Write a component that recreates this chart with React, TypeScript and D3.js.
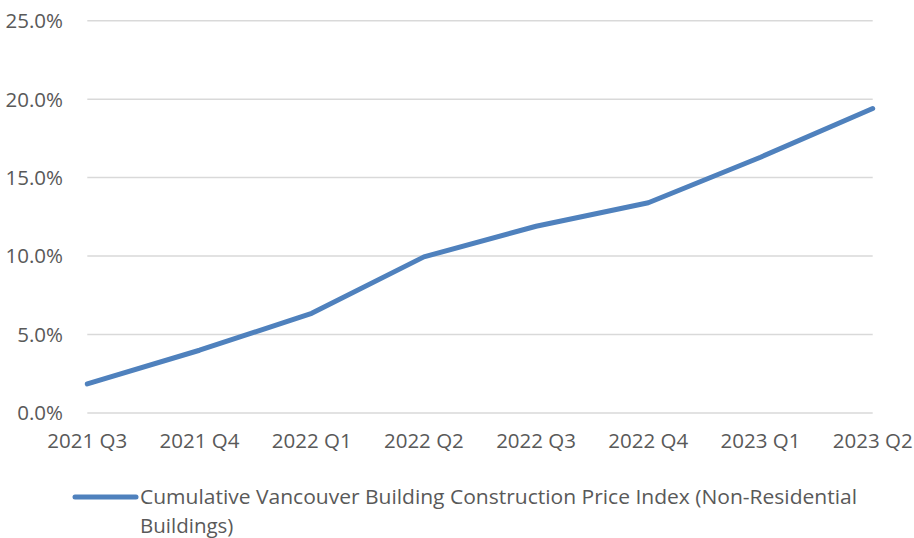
import React from "react";
import * as d3 from "d3";

const categories = ["2021 Q3", "2021 Q4", "2022 Q1", "2022 Q2", "2022 Q3", "2022 Q4", "2023 Q1", "2023 Q2"];
const values = [1.85, 4.0, 6.35, 9.95, 11.9, 13.4, 16.3, 19.4];
const yTicks = [0, 5, 10, 15, 20, 25];
const seriesName = "Cumulative Vancouver Building Construction Price Index (Non-Residential";
const seriesName2 = "Buildings)";

const W = 914;
const H = 538;
const FONT = "'Open Sans', sans-serif";

export default function App() {
  const x = d3.scalePoint<string>().domain(categories).range([87.3, 872.7]);
  const y = d3.scaleLinear().domain([0, 25]).range([413, 20.7]);
  const line = d3
    .line<number>()
    .x((_, i) => x(categories[i]) as number)
    .y((d) => y(d));

  return (
    <svg width={W} height={H} style={{ position: "absolute", left: 0, top: 0, background: "#fff" }}>
      {yTicks.map((t) => (
        <g key={t}>
          <line x1={87.3} x2={872.7} y1={y(t)} y2={y(t)} stroke="#d9d9d9" strokeWidth={1.5} />
          <text x={63} y={y(t)} dy="0.36em" textAnchor="end" fontFamily={FONT} fontSize={20.5} fill="#595959">
            {t.toFixed(1)}%
          </text>
        </g>
      ))}
      {categories.map((c) => (
        <text key={c} x={x(c)} y={448} textAnchor="middle" fontFamily={FONT} fontSize={20.5} fill="#595959">
          {c}
        </text>
      ))}
      <path d={line(values) || ""} fill="none" stroke="#4F81BD" strokeWidth={5} strokeLinejoin="round" strokeLinecap="round" />
      <line x1={75} x2={136} y1={497} y2={497} stroke="#4F81BD" strokeWidth={5} strokeLinecap="round" />
      <text x={140} y={504} fontFamily={FONT} fontSize={20.5} fill="#595959" textLength={717} lengthAdjust="spacingAndGlyphs">{seriesName}</text>
      <text x={140} y={533} fontFamily={FONT} fontSize={20.5} fill="#595959">{seriesName2}</text>
    </svg>
  );
}
